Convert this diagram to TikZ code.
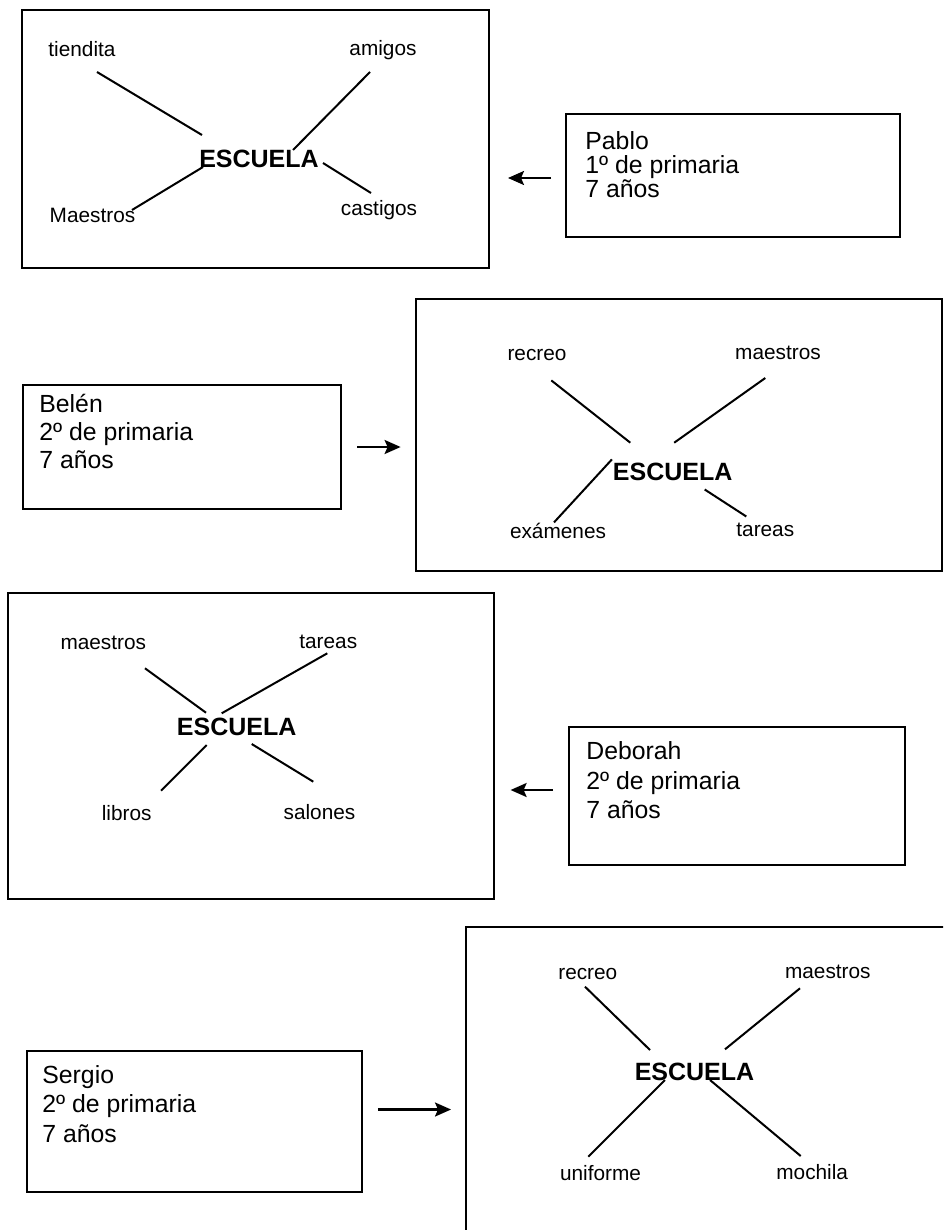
\documentclass[tikz,border=0pt]{standalone}
\usepackage{fontspec}
\setmainfont{Liberation Sans}
\usetikzlibrary{arrows.meta}

\begin{document}
\begin{tikzpicture}[x=0.5pt, y=-0.5pt, >={Stealth[length=8pt, width=7pt, inset=1.5pt]},
	mapa/.style={draw, line width=1pt, inner sep=0pt},
	ficha/.style={draw, line width=1pt, inner sep=0pt},
	datos/.style={anchor=north west, align=left, inner sep=0pt, font=\fontsize{12.4}{#1}\selectfont},
	palabra/.style={inner sep=0pt, text height=7.5pt, text depth=0pt, font=\fontsize{10.4}{12}\selectfont},
	centro/.style={inner sep=0pt, text height=9pt, text depth=0pt, font=\fontsize{12.5}{14}\selectfont\bfseries},
	linea/.style={line width=1pt},
	flecha/.style={->, line width=1.1pt}]
	
	\useasboundingbox (0,0) rectangle (943,1230);
	\clip (0,0) rectangle (943,1230);
	
	% Map boxes
	\node[mapa, minimum width=233.5pt, minimum height=129pt] (mapa1) at (255.5,139) {};
	\node[mapa, minimum width=263pt, minimum height=136pt] (mapa2) at (679,435) {};
	\node[mapa, minimum width=243pt, minimum height=153pt] (mapa3) at (251,746) {};
	\node[mapa, minimum width=247pt, minimum height=161.5pt] (mapa4) at (713,1088.5) {};
	
	% Child boxes
	\node[ficha, minimum width=167pt, minimum height=61.5pt] (ficha1) at (733,175.5) {};
	\node[ficha, minimum width=159pt, minimum height=62pt] (ficha2) at (182,447) {};
	\node[ficha, minimum width=168pt, minimum height=69pt] (ficha3) at (737,796) {};
	\node[ficha, minimum width=167.5pt, minimum height=70.5pt] (ficha4) at (194.5,1121.5) {};
	
	\node[datos=12] (datos1) at (585,131) {Pablo\\1º de primaria\\7 años};
	\node[datos=13.9] (datos2) at (39,394) {Belén\\2º de primaria\\7 años};
	\node[datos=14.75] (datos3) at (586,741.5) {Deborah\\2º de primaria\\7 años};
	\node[datos=14.75] (datos4) at (42,1065) {Sergio\\2º de primaria\\7 años};
	
	% Centre words
	\node[centro] (escuela1) at (259,158.3) {ESCUELA};
	\node[centro] (escuela2) at (672.7,471) {ESCUELA};
	\node[centro] (escuela3) at (236.7,726) {ESCUELA};
	\node[centro] (escuela4) at (694.5,1071) {ESCUELA};
	
	% Words round the centre
	\foreach \m/\k/\x/\y/\t in {1/1/82/49.5/tiendita, 1/2/383/48.5/amigos,
		1/3/92.5/215.5/Maestros, 1/4/379/207.5/castigos,
		2/1/537/352.8/recreo, 2/2/778/351.5/maestros,
		2/3/558/530.5/exámenes, 2/4/765.3/528.7/tareas,
		3/1/103.3/641.8/maestros, 3/2/328.3/640.8/tareas,
		3/3/126.7/813.2/libros, 3/4/319.5/811.8/salones,
		4/1/587.8/971.8/recreo, 4/2/827.8/970.8/maestros,
		4/3/600.5/1172.5/uniforme, 4/4/812.2/1171.8/mochila}
	\node[palabra] (palabra\m\k) at (\x,\y) {\t};
	
	% Spokes
	\foreach \m/\k/\ax/\ay/\bx/\by in {1/1/15/22.5/-57/-23.3, 1/2/-13/23.5/34/-8.3,
		1/3/39.5/-5.5/-56/8.7, 1/4/-8/-14.5/64/4.7,
		2/1/14.3/27.6/-42.4/-28.3, 2/2/-12.7/26.5/1.5/-28.3,
		2/3/-4/-8.1/-60.8/-11.6, 2/4/-19/-12.2/32/18.5,
		3/1/41.7/26.5/-30.7/-13.3, 3/2/-1/12.5/-15/-12.7,
		3/3/34.3/-22.5/-30/19, 3/4/-6.2/-30.1/15/18,
		4/1/-2.8/14.9/-44.5/-21, 4/2/-27.8/17.5/30.5/-21.7,
		4/3/-12.2/-15.8/-29.5/9, 4/4/-11.5/-15.8/15.5/9}
	\draw[linea] ([shift={(\ax,\ay)}]palabra\m\k.center) -- ([shift={(\bx,\by)}]escuela\m.center);
	
	% Arrows
	\draw[flecha, shorten <=7pt, shorten >=9pt] ([yshift=-1.25pt]ficha1.west) -- ([yshift=-1.25pt]ficha1.west -| mapa1.east);
	\draw[flecha, shorten <=7.5pt, shorten >=7.2pt] (ficha2.east) -- (ficha2.east -| mapa2.west);
	\draw[flecha, shorten <=7.5pt, shorten >=7.8pt] ([yshift=3pt]ficha3.west) -- ([yshift=3pt]ficha3.west -| mapa3.east);
	\draw[flecha, shorten <=7.4pt, shorten >=7pt] ([yshift=6pt]ficha4.east) -- ([yshift=6pt]ficha4.east -| mapa4.west);
	
\end{tikzpicture}
\end{document}
